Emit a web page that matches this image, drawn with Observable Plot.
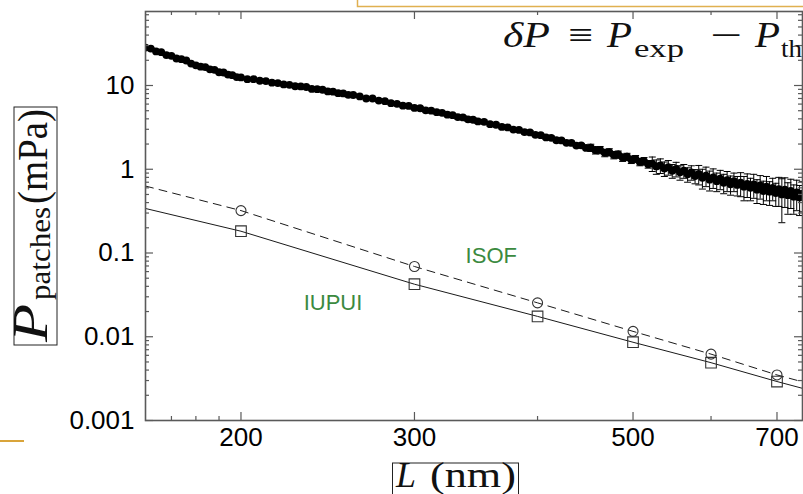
<!DOCTYPE html>
<html><head><meta charset="utf-8">
<script src="https://cdn.jsdelivr.net/npm/d3@7"></script>
<script src="https://cdn.jsdelivr.net/npm/@observablehq/plot@0.6"></script>
<style>
html,body{margin:0;padding:0;background:#fff;}
#chart{position:relative;width:803px;height:494px;overflow:hidden;}
</style></head><body><div id="chart"></div>
<script>
// δP = P_exp − P_th : [L (nm), value (mPa), error (mPa)]
const deltaP = [
[160,28.4,0.6],[162,27.6,0.6],[164,25.5,0.5],[166,25.0,0.5],[168,23.1,0.5],[170,22.6,0.4],
[172,21.0,0.4],[174,20.6,0.4],[176,19.9,0.4],[178,18.3,0.4],[180,17.4,0.3],[182,16.8,0.3],
[184,16.6,0.3],[186,15.6,0.3],[188,15.4,0.3],[190,14.4,0.3],[192,14.3,0.3],[194,13.5,0.3],
[196,13.3,0.3],[198,12.6,0.25],[200,12.5,0.25],[203,11.9,0.25],[206,11.9,0.25],[209,11.4,0.25],
[212,11.3,0.2],[215,10.8,0.2],[218,10.7,0.2],[221,10.3,0.2],[224,10.2,0.2],[227,9.8,0.2],
[230,9.75,0.2],[233,9.6,0.2],[236,9.1,0.2],[239,9.05,0.2],[242,8.9,0.2],[245,8.5,0.2],
[248,8.45,0.2],[251,8.1,0.2],[254,8.05,0.2],[257,7.75,0.2],[260,7.7,0.2],[264,7.4,0.2],
[268,7.0,0.2],[272,7.0,0.2],[276,6.6,0.2],[280,6.5,0.2],[284,6.15,0.2],[288,6.05,0.2],
[292,5.75,0.2],[296,5.7,0.2],[300,5.4,0.2],[304,5.35,0.2],[308,5.05,0.2],[312,5.0,0.2],
[316,4.8,0.2],[320,4.72,0.2],[324,4.48,0.2],[328,4.42,0.2],[332,4.2,0.2],[336,4.16,0.2],
[340,3.95,0.2],[344,3.9,0.2],[348,3.72,0.2],
[353,3.68,0.18],[358,3.45,0.17],[363,3.40,0.17],[368,3.20,0.16],[373,3.16,0.16],[378,2.98,0.15],
[383,2.95,0.15],[388,2.78,0.14],[393,2.75,0.14],[398,2.58,0.13],[403,2.55,0.13],[408,2.40,0.12],
[413,2.37,0.12],[418,2.22,0.11],[423,2.21,0.11],[428,2.07,0.10],[433,2.06,0.10],[438,1.92,0.10],
[443,1.93,0.10],[448,1.80,0.09],
[453,1.81,0.18],[458,1.69,0.17],[463,1.70,0.17],[468,1.57,0.16],[473,1.60,0.16],[478,1.48,0.15],
[483,1.50,0.15],[488,1.38,0.14],[493,1.41,0.14],[498,1.30,0.13],[503,1.33,0.13],[508,1.22,0.12],
[513,1.25,0.13],[518,1.15,0.12],
[523,1.17,0.23],[528,1.08,0.21],[533,1.11,0.22],[538,1.02,0.20],[543,1.06,0.21],[548,0.96,0.18],
[553,1.01,0.20],[558,0.92,0.18],[563,0.96,0.18],[568,0.87,0.17],[573,0.92,0.18],[578,0.83,0.16],
[583,0.88,0.23],[588,0.79,0.21],[593,0.84,0.22],[598,0.75,0.20],[603,0.80,0.21],[608,0.72,0.18],
[613,0.77,0.20],[618,0.69,0.18],[623,0.74,0.20],[628,0.66,0.17],[633,0.72,0.18],[638,0.65,0.17],
[643,0.69,0.22],[648,0.62,0.20],[653,0.67,0.21],[658,0.60,0.18],[663,0.66,0.21],[668,0.57,0.18],
[673,0.64,0.20],[678,0.55,0.17],[683,0.62,0.20],[688,0.54,0.17],[693,0.60,0.18],[698,0.52,0.16],
[703,0.58,0.22],[708,0.50,0.27],[713,0.57,0.22],[718,0.49,0.20],[723,0.55,0.21],[728,0.47,0.18],
[733,0.53,0.21],[738,0.46,0.18],[743,0.51,0.20]
];

// computed patch pressures (markers)
const markerL = [200, 300, 400, 500, 600, 700];
const iupuiP  = [0.182, 0.0424, 0.0175, 0.0086, 0.0049, 0.00292];
const isofP   = [0.321, 0.069, 0.0254, 0.0116, 0.0062, 0.0035];

// curves through them
const curveL       = [160, 200, 300, 400, 500, 600, 700, 745];
const iupuiCurveP  = [0.34, 0.182, 0.0424, 0.0175, 0.0086, 0.0049, 0.00292, 0.0024];
const isofCurveP   = [0.63, 0.321, 0.069, 0.0254, 0.0116, 0.0062, 0.0035, 0.00287];

// annotations
const labels = [
  {L: 359, P: 0.091, text: "ISOF"},
  {L: 248, P: 0.0256, text: "IUPUI"}
];

// ticks
const xMajor = [200, 300, 500, 700];
const xMinor = [170, 180, 190, 400, 600];
const yMajor = [0.001, 0.01, 0.1, 1, 10];
const yMult  = [2, 3, 4, 5, 6, 7, 8, 9];
const yMinor = yMajor.flatMap(d => yMult.map(m => +(d * m).toPrecision(3))).filter(v => v < 76);

const W = 803, H = 494;
const mL = 145, mR = 1, mT = 11, mB = 74;
const innerW = W - mL - mR, innerH = H - mT - mB;

const iupui = markerL.map((L, i) => ({L, P: iupuiP[i]}));
const isof  = markerL.map((L, i) => ({L, P: isofP[i]}));
const iupuiCurve = curveL.map((L, i) => ({L, P: iupuiCurveP[i]}));
const isofCurve  = curveL.map((L, i) => ({L, P: isofCurveP[i]}));

const capSymbol = {draw(ctx, size) { const w = Math.sqrt(size / Math.PI); ctx.moveTo(-w, 0); ctx.lineTo(w, 0); }};
const axisColor = "#5a5a5a";

const plot = Plot.plot({
  width: W, height: H,
  marginLeft: mL, marginRight: mR, marginTop: mT, marginBottom: mB,
  style: {fontFamily: "'Liberation Sans', Arial, sans-serif", fontSize: "26px", background: "white", color: "black"},
  x: {type: "log", domain: [160, 743]},
  y: {type: "log", domain: [0.001, 76.5]},
  marks: [
    Plot.line(iupuiCurve, {x: "L", y: "P", stroke: "#1a1a1a", strokeWidth: 1, clip: true}),
    Plot.line(isofCurve, {x: "L", y: "P", stroke: "#1a1a1a", strokeWidth: 1, strokeDasharray: "8,6", clip: true}),
    Plot.dot(iupui, {x: "L", y: "P", symbol: "square", r: 6, stroke: "#333", strokeWidth: 1.1, fill: "none"}),
    Plot.dot(isof, {x: "L", y: "P", symbol: "circle", r: 5, stroke: "#333", strokeWidth: 1.1, fill: "none"}),
    Plot.ruleX(deltaP, {x: d => d[0], y1: d => d[1] - d[2], y2: d => d[1] + d[2], stroke: "black", strokeWidth: 1, clip: true}),
    Plot.dot(deltaP, {x: d => d[0], y: d => d[1] + d[2], symbol: capSymbol, r: 3.5, stroke: "black", strokeWidth: 1, clip: true}),
    Plot.dot(deltaP, {x: d => d[0], y: d => d[1] - d[2], symbol: capSymbol, r: 3.5, stroke: "black", strokeWidth: 1, clip: true}),
    Plot.dot(deltaP, {x: d => d[0], y: d => d[1], r: 3.9, fill: "black", stroke: "none", clip: true}),
    Plot.text(labels, {x: "L", y: "P", text: "text", fill: "#3b8a3f", fontSize: 22, fontFamily: "'Liberation Sans', Arial, sans-serif"}),
    Plot.tickX(xMajor, {x: d => d, insetTop: innerH - 8, stroke: axisColor, strokeWidth: 1.2}),
    Plot.tickX(xMinor, {x: d => d, insetTop: innerH - 4, stroke: axisColor, strokeWidth: 1.2}),
    Plot.tickX(xMajor, {x: d => d, insetBottom: innerH - 8, stroke: axisColor, strokeWidth: 1.2}),
    Plot.tickX(xMinor, {x: d => d, insetBottom: innerH - 4, stroke: axisColor, strokeWidth: 1.2}),
    Plot.tickY(yMajor, {y: d => d, insetRight: innerW - 8, stroke: axisColor, strokeWidth: 1.2}),
    Plot.tickY(yMinor, {y: d => d, insetRight: innerW - 4, stroke: axisColor, strokeWidth: 1.2}),
    Plot.tickY(yMajor, {y: d => d, insetLeft: innerW - 8, stroke: axisColor, strokeWidth: 1.2}),
    Plot.tickY(yMinor, {y: d => d, insetLeft: innerW - 4, stroke: axisColor, strokeWidth: 1.2}),
    Plot.axisX({ticks: xMajor, tickFormat: d => String(d), tickSize: 0, tickPadding: 7, label: null, fontSize: 26}),
    Plot.axisY({ticks: yMajor, tickFormat: d => String(d), tickSize: 0, tickPadding: 11, label: null, fontSize: 26}),
    Plot.frame({stroke: axisColor, strokeWidth: 1.6})
  ]
});

const svg = d3.select(plot);
const serif = "'Liberation Serif', 'Times New Roman', serif";

function piece(parent, str, x, y, size, len, italic) {
  const t = parent.append("text").attr("x", x).attr("y", y)
    .attr("text-anchor", "start").attr("font-family", serif).attr("font-size", size)
    .attr("fill", "#111").attr("stroke", "none").text(str);
  if (italic) t.attr("font-style", "italic");
  if (len) t.attr("textLength", len).attr("lengthAdjust", "spacingAndGlyphs");
  return t;
}

// formula top right: δP ≡ P_exp − P_th
const fg = svg.append("g");
piece(fg, "δP", 503, 47, 36, 47, true);
piece(fg, "≡", 568, 47, 36, 25, false);
piece(fg, "P", 607, 47, 36, 25, true);
piece(fg, "exp", 634, 57, 26, 50, false);
piece(fg, "−", 710, 47, 36, 32, false);
piece(fg, "P", 755, 47, 36, 25, true);
piece(fg, "th", 781, 57, 26, 21, false);

// y label (boxed, rotated): P_patches (mPa)
svg.append("rect").attr("x", 14).attr("y", 107).attr("width", 43).attr("height", 238)
  .attr("fill", "none").attr("stroke", "#222").attr("stroke-width", 1);
const yg = svg.append("g").attr("transform", "translate(0,345) rotate(-90)");
piece(yg, "P", 3, 47, 50, 38, true);
piece(yg, "patches", 45, 50, 30, 93, false);
piece(yg, "(mPa)", 141, 47, 42, 95, false);

// x label (boxed): L (nm)
svg.append("rect").attr("x", 392.5).attr("y", 463).attr("width", 126).attr("height", 40)
  .attr("fill", "none").attr("stroke", "#222").attr("stroke-width", 1);
piece(svg, "L", 396, 487, 35, 20, true);
piece(svg, "(nm)", 430, 487, 35, 86, false);

// slide border remnants
svg.append("line").attr("x1", 0).attr("x2", 24).attr("y1", 441).attr("y2", 441)
  .attr("stroke", "#d9a43a").attr("stroke-width", 2);
svg.append("path").attr("d", "M357.5,0V6.5H803").attr("fill", "none")
  .attr("stroke", "#e0b050").attr("stroke-width", 1.5);

document.getElementById("chart").appendChild(plot);
</script></body></html>
